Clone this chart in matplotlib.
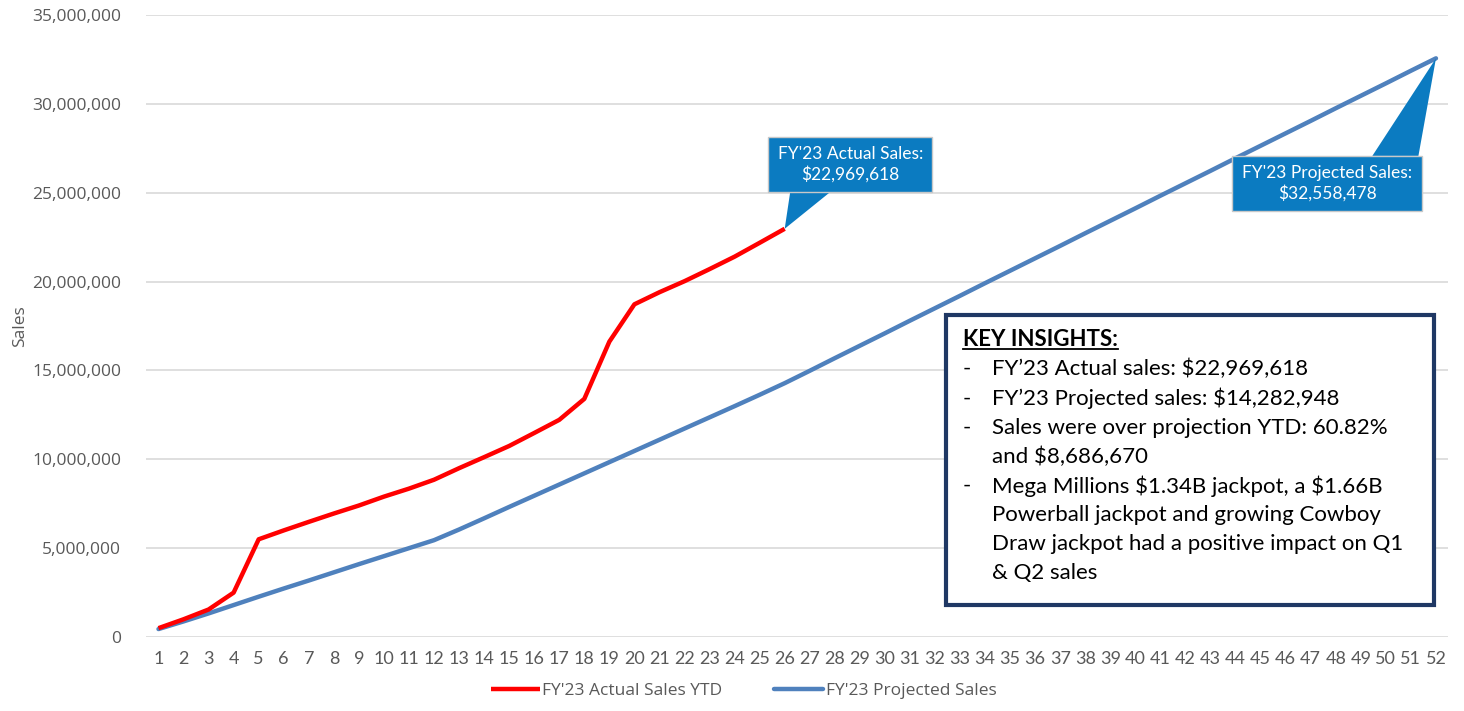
import matplotlib.pyplot as plt
import numpy as np
from matplotlib.patches import Rectangle, Polygon
from matplotlib.ticker import FuncFormatter

# weekly data
weeks = list(range(1, 53))
actual_sales = [0.50, 1.00, 1.55, 2.50, 5.50, 6.00, 6.48, 6.95, 7.40, 7.90, 8.35, 8.85,
                9.50, 10.12, 10.75, 11.48, 12.22, 13.40, 16.62, 18.72, 19.40, 20.02, 20.70,
                21.40, 22.18, 22.969618]
projected_sales = [0.45, 0.88, 1.33, 1.80, 2.27, 2.73, 3.18, 3.64, 4.10, 4.55, 5.00, 5.45,
                   6.05, 6.68, 7.32, 7.95, 8.58, 9.21, 9.84, 10.47, 11.10, 11.73, 12.36,
                   12.99, 13.63, 14.282948,
                   14.98, 15.69, 16.39, 17.09, 17.80, 18.50, 19.20, 19.91, 20.61, 21.31,
                   22.01, 22.72, 23.42, 24.12, 24.83, 25.53, 26.23, 26.94, 27.64, 28.34,
                   29.04, 29.75, 30.45, 31.15, 31.86, 32.558478]
actual_sales = [v * 1e6 for v in actual_sales]
projected_sales = [v * 1e6 for v in projected_sales]

series_names = ["FY'23 Actual Sales YTD", "FY'23 Projected Sales"]
callout_actual = "FY'23 Actual Sales:\n$22,969,618"
callout_projected = "FY'23 Projected Sales:\n$32,558,478"
insights_title = "KEY INSIGHTS:"
insights = [
    ["FY\u201923 Actual sales: $22,969,618"],
    ["FY\u201923 Projected sales: $14,282,948"],
    ["Sales were over projection YTD: 60.82%", "and $8,686,670"],
    ["Mega Millions $1.34B jackpot, a $1.66B", "Powerball jackpot and growing Cowboy",
     "Draw jackpot had a positive impact on Q1", "& Q2 sales"],
]

red = '#FF0000'
blue = '#4F81BD'
callout_blue = '#0B7BC1'
gray = '#595959'

plt.rcParams['font.family'] = ['Open Sans', 'DejaVu Sans']
plt.rcParams['text.parse_math'] = False

fig = plt.figure(figsize=(14.64, 7.11), dpi=100)
ax = fig.add_axes([0.0997, 0.104, 0.8897, 0.875])

ax.plot(weeks, projected_sales, color=blue, lw=3.2, solid_capstyle='round', label=series_names[1], zorder=3)
ax.plot(weeks[:len(actual_sales)], actual_sales, color=red, lw=3.2, solid_capstyle='butt', label=series_names[0], zorder=4)

ax.set_xlim(0.5, 52.5)
ax.set_ylim(0, 35e6)
ax.set_yticks(np.arange(0, 35e6 + 1, 5e6))
ax.yaxis.set_major_formatter(FuncFormatter(lambda v, p: '{:,.0f}'.format(v)))
ax.set_xticks(weeks)
ax.set_xticklabels([str(w) for w in weeks], fontfamily='Lato', fontsize=13, color=gray)
for lab in ax.get_yticklabels():
    lab.set_fontsize(12.5)
    lab.set_color(gray)
ax.tick_params(axis='both', length=0)
ax.tick_params(axis='y', pad=18)
ax.tick_params(axis='x', pad=10)
ax.grid(axis='y', color='#D9D9D9', lw=1.2)
ax.set_axisbelow(True)
for s in ax.spines.values():
    s.set_visible(False)
ax.set_ylabel('Sales', fontsize=12.5, color=gray, labelpad=3)

# callout for actual sales
ax.add_patch(Polygon([(26.22, 25.04e6), (27.82, 25.04e6), (26, actual_sales[-1])],
                     closed=True, facecolor=callout_blue, edgecolor='none', zorder=5))
ax.add_patch(Rectangle((25.34, 25.04e6), 31.89 - 25.34, 28.14e6 - 25.04e6,
                       facecolor=callout_blue, edgecolor='#C8C8C8', lw=1, zorder=5))
ax.text((25.34 + 31.89) / 2, (25.04e6 + 28.14e6) / 2, callout_actual, color='white',
        fontfamily='Lato', fontsize=12.5, ha='center', va='center', linespacing=1.25, zorder=6)

# callout for projected sales
ax.add_patch(Polygon([(49.46, 27.07e6), (51.30, 27.07e6), (52, projected_sales[-1])],
                     closed=True, facecolor=callout_blue, edgecolor='none', zorder=5, clip_on=False))
ax.add_patch(Rectangle((43.87, 23.97e6), 51.46 - 43.87, 27.07e6 - 23.97e6,
                       facecolor=callout_blue, edgecolor='#C8C8C8', lw=1, zorder=5))
ax.text((43.87 + 51.46) / 2, (23.97e6 + 27.07e6) / 2, callout_projected, color='white',
        fontfamily='Lato', fontsize=12.5, ha='center', va='center', linespacing=1.25, zorder=6)

# key insights box (axes coords)
ax.add_patch(Rectangle((0.614, 0.0514), 0.989 - 0.614, 0.518 - 0.0514, transform=ax.transAxes,
                       facecolor='white', edgecolor='#1F3864', lw=3, zorder=7))
tx_dash = 0.627
tx_text = 0.6495
y0 = 0.4775
step = 0.0469
title = ax.text(tx_dash, y0, insights_title, transform=ax.transAxes, fontfamily='Lato',
                fontsize=16, fontweight='bold', color='black', va='center', zorder=8)
line_no = 1
for item in insights:
    ax.text(tx_dash, y0 - line_no * step, '-', transform=ax.transAxes, fontfamily='Lato',
            fontsize=16, color='black', va='center', zorder=8)
    for ln in item:
        ax.text(tx_text, y0 - line_no * step, ln, transform=ax.transAxes, fontfamily='Lato',
                fontsize=16, color='black', va='center', zorder=8)
        line_no += 1

# underline the title
fig.canvas.draw()
bb = title.get_window_extent().transformed(ax.transAxes.inverted())
ax.plot([bb.x0, bb.x1], [bb.y0 + 0.003, bb.y0 + 0.003], transform=ax.transAxes, color='black', lw=1.3, zorder=8)

h, l = ax.get_legend_handles_labels()
order = [1, 0]
leg = fig.legend([h[i] for i in order], [l[i] for i in order], loc='lower center',
                 bbox_to_anchor=(0.508, -0.005), ncol=2, frameon=False,
                 handlelength=2.8, handletextpad=0.15, columnspacing=3.0, fontsize=12.5)
for t in leg.get_texts():
    t.set_color(gray)

fig.savefig('out.png', dpi=100)
